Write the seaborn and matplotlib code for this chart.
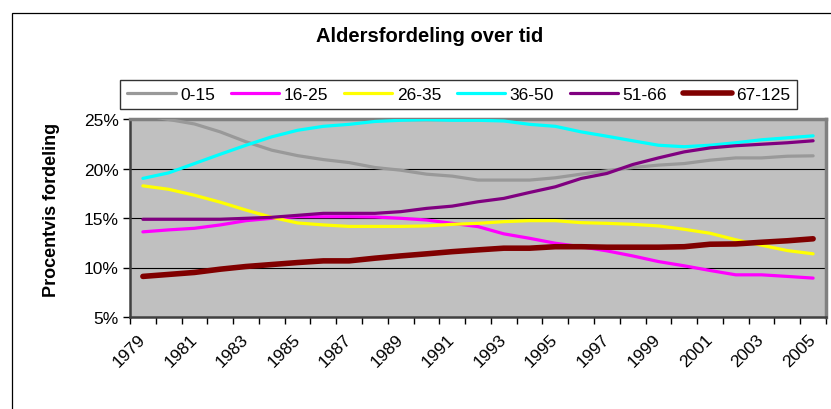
import numpy as np
import pandas as pd
import matplotlib
matplotlib.use("Agg")
import matplotlib.pyplot as plt
from matplotlib.patches import Rectangle
from matplotlib.lines import Line2D
import seaborn as sns

plt.rcParams['font.family'] = ['Liberation Sans', 'DejaVu Sans']

years = list(range(1979, 2006))
groups = ["0-15", "16-25", "26-35", "36-50", "51-66", "67-125"]

age_0_15 = [25.4, 24.95, 24.5, 23.7, 22.7, 21.85, 21.3, 20.9, 20.6, 20.1, 19.83, 19.43, 19.23, 18.83,
            18.83, 18.83, 19.06, 19.43, 19.77, 20.1, 20.34, 20.5, 20.84, 21.07, 21.07, 21.24, 21.28]
age_16_25 = [13.6, 13.8, 13.96, 14.3, 14.73, 14.97, 15.13, 15.13, 15.13, 15.1, 14.97, 14.8, 14.46, 14.13,
             13.4, 12.95, 12.45, 12.1, 11.68, 11.17, 10.6, 10.17, 9.7, 9.26, 9.26, 9.1, 8.93]
age_26_35 = [18.25, 17.9, 17.3, 16.6, 15.8, 15.07, 14.5, 14.3, 14.15, 14.15, 14.15, 14.2, 14.36, 14.46,
             14.63, 14.73, 14.73, 14.53, 14.46, 14.36, 14.2, 13.86, 13.46, 12.8, 12.25, 11.71, 11.38]
age_36_50 = [19.0, 19.56, 20.5, 21.44, 22.35, 23.2, 23.86, 24.26, 24.46, 24.75, 24.87, 24.93, 24.87, 24.87,
             24.8, 24.46, 24.26, 23.7, 23.26, 22.8, 22.35, 22.2, 22.35, 22.6, 22.9, 23.1, 23.3]
age_51_66 = [14.87, 14.87, 14.87, 14.87, 14.97, 15.07, 15.27, 15.47, 15.47, 15.47, 15.64, 15.97, 16.2, 16.64,
             16.98, 17.58, 18.15, 18.99, 19.5, 20.4, 21.07, 21.68, 22.08, 22.3, 22.45, 22.6, 22.8]
age_67_125 = [9.1, 9.3, 9.5, 9.83, 10.1, 10.3, 10.5, 10.67, 10.67, 10.94, 11.17, 11.38, 11.6, 11.78,
              11.95, 11.95, 12.1, 12.1, 12.05, 12.05, 12.05, 12.1, 12.35, 12.38, 12.55, 12.7, 12.9]

series = [age_0_15, age_16_25, age_26_35, age_36_50, age_51_66, age_67_125]
colors = ["#999999", "#FF00FF", "#FFFF00", "#00FFFF", "#800080", "#800000"]
widths = [2.3, 2.3, 2.3, 2.3, 2.3, 4.0]

rows = []
for g, vals in zip(groups, series):
    for i, (y, v) in enumerate(zip(years, vals)):
        rows.append({"idx": i, "year": y, "value": v, "group": g})
df = pd.DataFrame(rows)

fig = plt.figure(figsize=(8.31, 4.10), dpi=100)
ax = fig.add_axes([130/831, 1-318/410, (826-130)/831, (318-120)/410])
ax.set_facecolor("#C0C0C0")

sns.lineplot(data=df, x="idx", y="value", hue="group", hue_order=groups,
             palette=dict(zip(groups, colors)), size="group", size_order=groups,
             sizes=dict(zip(groups, widths)), legend=False, ax=ax, zorder=3)
for ln in ax.get_lines():
    ln.set_solid_capstyle("round")

ax.set_xlim(-0.5, len(years) - 0.5)
ax.set_ylim(5, 25)
ax.set_yticks([5, 10, 15, 20, 25])
ax.set_yticklabels([f"{t}%" for t in [5, 10, 15, 20, 25]], fontsize=12.5)
for yv in [10, 15, 20]:
    ax.axhline(yv, color="black", lw=0.8, zorder=1)

ax.set_xticks(np.arange(-0.5, len(years), 1.0))
ax.set_xticklabels([])
ax.set_xticks(np.arange(0, len(years), 2), minor=True)
ax.set_xticklabels([str(y) for y in years[::2]], minor=True, rotation=45,
                   ha="right", va="center", rotation_mode="anchor", fontsize=12.5)
ax.tick_params(axis="x", which="major", length=5, width=1, direction="out", color="black")
ax.tick_params(axis="x", which="minor", length=0, pad=14)
ax.tick_params(axis="y", length=5, width=1, direction="out", color="black", pad=3)

ax.set_xlabel("")
ax.set_ylabel("")
ax.spines["top"].set_color("#808080")
ax.spines["top"].set_linewidth(2.5)
ax.spines["right"].set_color("#808080")
ax.spines["right"].set_linewidth(2.5)
ax.spines["left"].set_color("#404040")
ax.spines["left"].set_linewidth(1.8)
ax.spines["bottom"].set_color("#404040")
ax.spines["bottom"].set_linewidth(1.8)

fig.text(52/831, 1-210/410, "Procentvis fordeling", rotation=90, ha="center", va="center",
         fontsize=13, fontweight="bold")
fig.text(430/831, 1-37/410, "Aldersfordeling over tid", ha="center", va="center",
         fontsize=14.5, fontweight="bold")

handles = [Line2D([0], [0], color=c, lw=w, solid_capstyle="round") for c, w in zip(colors, widths)]
leg = fig.legend(handles, groups, loc="lower left",
                 bbox_to_anchor=(120/831, 1-110/410, (797-120)/831, (110-72)/410),
                 mode="expand", ncol=6, frameon=True, fancybox=False, edgecolor="black",
                 borderaxespad=0, handlelength=2.8, handletextpad=0.25, fontsize=12.5,
                 borderpad=0.4)
leg.get_frame().set_linewidth(1.0)

fig.add_artist(Rectangle((12/831, -0.2), 1.2, 1.2 - 14/410, transform=fig.transFigure,
                         fill=False, edgecolor="black", lw=0.9))

fig.savefig("out.png", dpi=100)
